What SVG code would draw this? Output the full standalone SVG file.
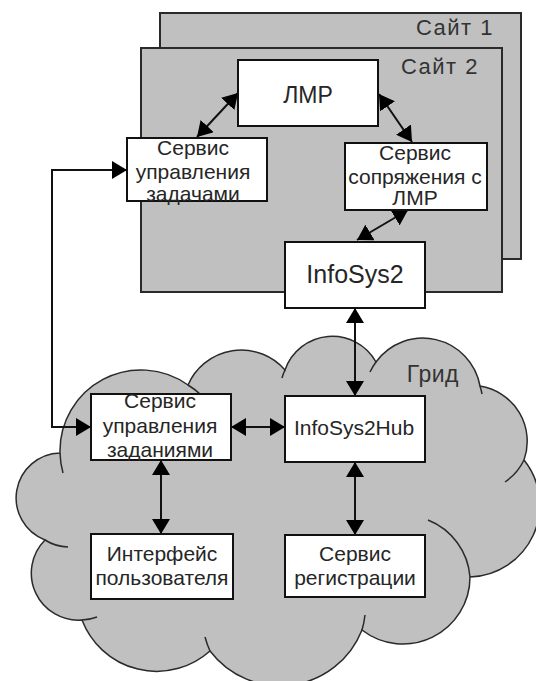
<svg xmlns="http://www.w3.org/2000/svg" width="536" height="681" viewBox="0 0 536 681">
<style>
.site{fill:#c0c0c0;stroke:#2a2a2a;stroke-width:2}
.cloud{fill:#c0c0c0;stroke:#2a2a2a;stroke-width:1.5}
.tick{fill:none;stroke:#2a2a2a;stroke-width:1.5}
.box{fill:#fff;stroke:#111;stroke-width:2}
.t{font-family:"Liberation Sans",Arial,sans-serif;font-size:21px;fill:#262626;text-anchor:middle}
.lbl{font-family:"Liberation Sans",Arial,sans-serif;font-size:22px;fill:#333;text-anchor:end;letter-spacing:1.5px}
.c{fill:none;stroke:#111;stroke-width:2;marker-start:url(#ah);marker-end:url(#ah)}
</style>
<defs>
<marker id="ah" markerUnits="userSpaceOnUse" markerWidth="16" markerHeight="18" refX="15" refY="9" orient="auto-start-reverse">
<path d="M0,0 L15,9 L0,18 Z" fill="#000"/>
</marker>
</defs>

<g id="site1">
<rect class="site" x="160" y="13" width="361" height="246"/>
<text class="lbl" x="494" y="35">Сайт 1</text>
</g>
<g id="site2">
<rect class="site" x="141" y="48" width="361" height="244"/>
<text class="lbl" x="479" y="74">Сайт 2</text>
</g>

<g id="grid">
<path class="cloud" d="M60,453 A81,81 0 0 1 188,385 A58,58 0 0 1 285,370 A50,50 0 0 1 376,362 A58,58 0 0 1 480,386 A56,56 0 0 1 524,460 A72,72 0 0 1 470,577 A67,67 0 0 1 362,630 A88,88 0 0 1 210,651 A80,80 0 0 1 82,620 A47,47 0 0 1 45,540 A45,45 0 0 1 60,453 Z"/>
<path class="tick" d="M63,473 A81,81 0 0 1 60,453 M188,385 A81,81 0 0 1 200,394 M282,378 A50,50 0 0 1 285,370 M370,372 A58,58 0 0 1 376,362 M480,386 A58,58 0 0 1 482,394 M524,460 A56,56 0 0 1 505,482 M428,520 A67,67 0 0 1 470,577 M365,615 A88,88 0 0 1 362,630 M210,651 A88,88 0 0 1 205,637 M97,617 A47,47 0 0 1 82,620 M68,547 A45,45 0 0 1 45,540"/>
<text class="lbl" x="459" y="382" style="font-size:23px;letter-spacing:0.5px">Грид</text>
</g>

<g id="connectors">
<path class="c" d="M238,93 L197,137"/>
<path class="c" d="M379,94 L412,142"/>
<path class="c" d="M408,210 L357,240"/>
<path class="c" d="M127,170 L52,170 L52,427 L91,427"/>
<path class="c" d="M355,308 L355,396"/>
<path class="c" d="M231,427 L285,427"/>
<path class="c" d="M161,460 L161,534"/>
<path class="c" d="M355,462 L355,535"/>
</g>

<g id="lmr">
<rect class="box" x="238" y="60" width="140" height="66"/>
<text class="t" x="308" y="103" style="font-size:23px">ЛМР</text>
</g>
<g id="task-service">
<rect class="box" x="127" y="138" width="140" height="63"/>
<text class="t" x="193" y="155">Сервис</text>
<text class="t" x="193" y="179">управления</text>
<text class="t" x="193" y="201">задачами</text>
</g>
<g id="lmr-adapter">
<rect class="box" x="345" y="143" width="142" height="67"/>
<text class="t" x="415" y="160">Сервис</text>
<text class="t" x="415" y="184">сопряжения с</text>
<text class="t" x="415" y="205">ЛМР</text>
</g>
<g id="infosys2">
<rect class="box" x="285" y="242" width="140" height="66"/>
<text class="t" x="355" y="283" style="font-size:25px">InfoSys2</text>
</g>
<g id="job-service">
<rect class="box" x="91" y="394" width="140" height="66"/>
<text class="t" x="160" y="408">Сервис</text>
<text class="t" x="160" y="433">управления</text>
<text class="t" x="160" y="457">заданиями</text>
</g>
<g id="infosys2hub">
<rect class="box" x="285" y="396" width="140" height="66"/>
<text class="t" x="354" y="435">InfoSys2Hub</text>
</g>
<g id="user-interface">
<rect class="box" x="91" y="534" width="142" height="65"/>
<text class="t" x="162" y="561">Интерфейс</text>
<text class="t" x="162" y="585">пользователя</text>
</g>
<g id="registry">
<rect class="box" x="285" y="535" width="140" height="62"/>
<text class="t" x="355" y="561">Сервис</text>
<text class="t" x="355" y="585">регистрации</text>
</g>
</svg>
